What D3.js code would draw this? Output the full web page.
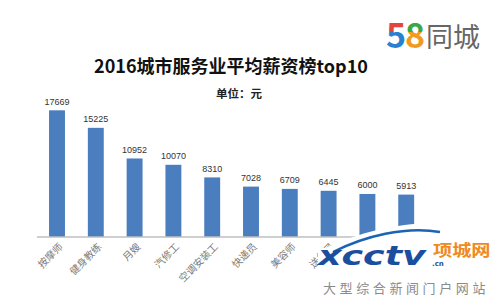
<!DOCTYPE html>
<html>
<head>
<meta charset="utf-8">
<script src="https://cdn.jsdelivr.net/npm/d3@7"></script>
<style>
  body { margin: 0; background: #fff; }
  svg { display: block; }
</style>
</head>
<body>
<div id="chart"></div>
<script>
var categories = ["按摩师", "健身教练", "月嫂", "汽修工", "空调安装工", "快递员", "美容师", "送餐员", "保洁员", "保安"];
var salaries = [17669, 15225, 10952, 10070, 8310, 7028, 6709, 6445, 6000, 5913];

var width = 500, height = 298;

var svg = d3.select("#chart").append("svg")
    .attr("width", width)
    .attr("height", height);

var defs = svg.append("defs");
var g5 = defs.append("linearGradient").attr("id", "g5").attr("x1", 0).attr("y1", 0).attr("x2", 0).attr("y2", 1);
g5.append("stop").attr("offset", "0.45").attr("stop-color", "#e2453b");
g5.append("stop").attr("offset", "0.45").attr("stop-color", "#2a7fd0");
var g8 = defs.append("linearGradient").attr("id", "g8").attr("x1", 0).attr("y1", 0).attr("x2", 0).attr("y2", 1);
g8.append("stop").attr("offset", "0.47").attr("stop-color", "#3aa64a");
g8.append("stop").attr("offset", "0.47").attr("stop-color", "#f29a1f");

var x = d3.scaleBand()
    .domain(categories)
    .range([37.6, 425.6])
    .paddingInner(0.59)
    .paddingOuter(0.295);

var y = d3.scaleLinear()
    .domain([0, 20000])
    .range([237, 93.6]);

// title
svg.append("text")
    .attr("x", 231).attr("y", 73)
    .attr("text-anchor", "middle")
    .style("font-family", "'Noto Sans CJK SC', sans-serif")
    .style("font-weight", "bold")
    .style("font-size", "18px")
    .attr("fill", "#111")
    .text("2016城市服务业平均薪资榜top10");

svg.append("text")
    .attr("x", 239).attr("y", 97.5)
    .attr("text-anchor", "middle")
    .style("font-family", "'Noto Sans CJK SC', sans-serif")
    .style("font-weight", "bold")
    .style("font-size", "11.5px")
    .attr("fill", "#222")
    .text("单位：元");

// logo
var logo = svg.append("g").style("font-family", "'Noto Sans CJK SC', sans-serif");
logo.append("text").attr("x", 386).attr("y", 48)
    .style("font-size", "34px").style("font-weight", "bold")
    .attr("fill", "url(#g5)").text("5");
logo.append("text").attr("x", 405).attr("y", 48)
    .style("font-size", "34px").style("font-weight", "bold")
    .attr("fill", "url(#g8)").text("8");
logo.append("text").attr("x", 426).attr("y", 47)
    .style("font-size", "27px")
    .attr("fill", "#666").text("同城");

// bars
svg.append("g")
  .selectAll("rect")
  .data(salaries)
  .enter().append("rect")
    .attr("x", function(d, i) { return x(categories[i]); })
    .attr("y", function(d) { return y(d); })
    .attr("width", x.bandwidth())
    .attr("height", function(d) { return y(0) - y(d); })
    .attr("fill", "#4a7ebf");

svg.append("g")
  .selectAll("text")
  .data(salaries)
  .enter().append("text")
    .attr("x", function(d, i) { return x(categories[i]) + x.bandwidth() / 2; })
    .attr("y", function(d) { return y(d) - 5.5; })
    .attr("text-anchor", "middle")
    .style("font-family", "'Liberation Sans', sans-serif")
    .style("font-size", "9px")
    .attr("fill", "#333")
    .text(function(d) { return d; });

// x axis
var xAxis = svg.append("g")
    .attr("transform", "translate(0," + y(0) + ")")
    .call(d3.axisBottom(x).tickSize(0).tickSizeOuter(0));
xAxis.select(".domain").attr("stroke", "#bfbfbf").attr("stroke-width", 1.5)
    .attr("d", "M37,0H426");
xAxis.selectAll(".tick text")
    .attr("text-anchor", "end")
    .attr("transform", "translate(4,8) rotate(-45)")
    .attr("dy", "0.35em")
    .attr("y", 0)
    .style("font-family", "'Noto Sans CJK SC', serif")
    .style("font-size", "10px")
    .style("fill", "#7a7a7a");

// watermark
var wm = svg.append("g");
wm.append("path")
    .attr("d", "M330,246 C370,228 410,222 442,223 L500,222 L500,298 L318,298 L318,250 Z")
    .attr("fill", "#fff");
wm.append("path")
    .attr("d", "M333,252 C365,236 405,226 440,232")
    .attr("fill", "none")
    .attr("stroke", "#1b63b5")
    .attr("stroke-width", 2.5);
wm.append("text")
    .attr("x", 318).attr("y", 265)
    .attr("transform", "translate(318,265) scale(1.35,1) translate(-318,-265)")
    .style("font-family", "'DejaVu Sans', sans-serif")
    .style("font-weight", "bold")
    .style("font-style", "italic")
    .style("font-size", "27px")
    .attr("fill", "#1b4e9e")
    .text("xcctv");
wm.append("text")
    .attr("x", 432).attr("y", 266)
    .style("font-family", "'DejaVu Sans', sans-serif")
    .style("font-weight", "bold")
    .style("font-size", "7px")
    .attr("fill", "#1b4e9e")
    .text(".cn");
wm.append("text")
    .attr("x", 433).attr("y", 256)
    .attr("transform", "translate(433,256) scale(1.2,1) translate(-433,-256)")
    .style("font-family", "'Noto Sans CJK SC', sans-serif")
    .style("font-weight", "bold")
    .style("font-size", "16px")
    .attr("fill", "#f08a1c")
    .text("项城网");
wm.append("text")
    .attr("x", 323).attr("y", 293)
    .style("font-family", "'Noto Sans CJK SC', sans-serif")
    .style("font-size", "13px")
    .style("letter-spacing", "3.6px")
    .attr("fill", "#8a8a8a")
    .text("大型综合新闻门户网站");
</script>
</body>
</html>
